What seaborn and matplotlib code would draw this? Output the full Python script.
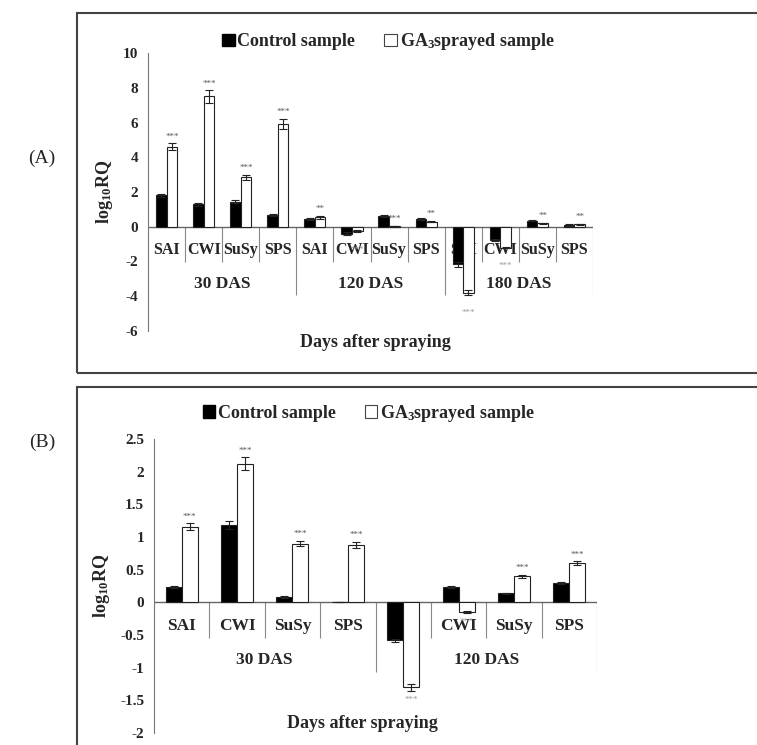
import numpy as np
import pandas as pd
import matplotlib
matplotlib.use("Agg")
import matplotlib.pyplot as plt
from matplotlib.patches import Patch, Rectangle
import seaborn as sns

# ---------------------------------------------------------------------------
# Data
# ---------------------------------------------------------------------------
GENES = ["SAI", "CWI", "SuSy", "SPS"]

A_GROUPS = ["30 DAS", "120 DAS", "180 DAS"]
A_CONTROL = [1.8, 1.3, 1.45, 0.7, 0.45, -0.4, 0.6, 0.45, -2.15, -0.75, 0.35, 0.1]
A_CONTROL_ERR = [0.08, 0.08, 0.08, 0.06, 0.05, 0.08, 0.05, 0.05, 0.15, 0.06, 0.04, 0.03]
A_GA = [4.6, 7.5, 2.85, 5.9, 0.55, -0.25, 0.05, 0.3, -3.8, -1.2, 0.2, 0.15]
A_GA_ERR = [0.2, 0.35, 0.15, 0.3, 0.08, 0.05, 0.02, 0.05, 0.15, 0.05, 0.04, 0.03]
A_STARS = ["***", "***", "***", "***", "**", "***", "***", "**", "***", "***", "**", "**"]

B_GROUPS = ["30 DAS", "120 DAS"]
B_CONTROL = [0.24, 1.18, 0.08, 0.0, -0.58, 0.24, 0.14, 0.29]
B_CONTROL_ERR = [0.015, 0.06, 0.01, 0.0, 0.02, 0.015, 0.01, 0.015]
B_GA = [1.16, 2.12, 0.9, 0.88, -1.3, -0.15, 0.4, 0.6]
B_GA_ERR = [0.05, 0.1, 0.04, 0.05, 0.05, 0.01, 0.02, 0.03]
B_STARS = ["***"] * 8

LEGEND_LABELS = ["Control sample", r"GA$_3$sprayed sample"]

sns.set_style("white")
plt.rcParams["font.family"] = ["Liberation Serif", "DejaVu Serif"]
plt.rcParams["font.weight"] = "bold"
plt.rcParams["mathtext.fontset"] = "custom"
plt.rcParams["mathtext.rm"] = "Liberation Serif:bold"
plt.rcParams["mathtext.it"] = "Liberation Serif:bold"
plt.rcParams["mathtext.bf"] = "Liberation Serif:bold"


def draw_panel(ax, groups, control, control_err, ga, ga_err, stars, ylim, yticks,
               gene_y, group_y, sep_gene, sep_group, width, star_off, xlab_pos,
               legend_pos, label_size):
    slots = [f"{g}|{gene}" for g in groups for gene in GENES]
    df = pd.DataFrame({
        "slot": slots * 2,
        "sample": ["Control"] * len(slots) + ["GA"] * len(slots),
        "value": list(control) + list(ga),
    })
    sns.barplot(data=df, x="slot", y="value", hue="sample", order=slots,
                hue_order=["Control", "GA"],
                palette={"Control": "black", "GA": "white"},
                edgecolor="#222", linewidth=0.8, width=width, gap=0,
                ax=ax, legend=False, zorder=3)

    # error bars and significance stars
    for cont, vals, errs in ((ax.containers[0], control, control_err),
                             (ax.containers[1], ga, ga_err)):
        xs = [b.get_x() + b.get_width() / 2 for b in cont]
        ax.errorbar(xs, vals, yerr=errs, fmt="none", ecolor="#222",
                    elinewidth=0.8, capsize=3, capthick=0.8, zorder=4)
    xs = [b.get_x() + b.get_width() / 2 for b in ax.containers[1]]
    for x, v, e, s in zip(xs, ga, ga_err, stars):
        if v >= 0:
            ax.annotate(s, (x, v + e), xytext=(0, 2), textcoords="offset points",
                        ha="center", va="bottom", fontsize=6.5, color="#555",
                        fontweight="normal")
        else:
            ax.annotate(s, (x, v - e), xytext=(0, -star_off), textcoords="offset points",
                        ha="center", va="top", fontsize=6.5, color="#999",
                        fontweight="normal")

    n = len(slots)
    ax.set_xlim(-0.5, n - 0.5)
    ax.set_ylim(*ylim)
    ax.set_yticks(yticks)
    ax.set_yticklabels([f"{t:g}" for t in yticks], fontsize=11, fontweight="bold")
    ax.set_xticks([])
    ax.set_xlabel("")
    ax.set_ylabel(r"log$_{10}$RQ", fontsize=13, fontweight="bold", labelpad=6)
    for side in ("top", "right", "bottom"):
        ax.spines[side].set_visible(False)
    ax.spines["left"].set_color("#777")
    ax.tick_params(axis="y", length=3, color="#777", pad=4)
    ax.axhline(0, color="#666", lw=1, zorder=2)

    # multi-level category axis
    for k in range(1, n + 1):
        depth = sep_group if k % 4 == 0 else sep_gene
        ax.vlines(k - 0.5, depth, 0, color="#888", lw=0.8, zorder=1)
    for i, slot in enumerate(slots):
        ax.text(i, gene_y, slot.split("|")[1], ha="center", va="center",
                fontsize=label_size, fontweight="bold", zorder=1)
    for j, g in enumerate(groups):
        ax.text(j * 4 + 1.5, group_y, g, ha="center", va="center",
                fontsize=12.5, fontweight="bold", zorder=1)

    ax.text(xlab_pos[0], xlab_pos[1], "Days after spraying", transform=ax.transAxes,
            ha="center", va="center", fontsize=13, fontweight="bold")

    handles = [Patch(facecolor="black", edgecolor="black"),
               Patch(facecolor="white", edgecolor="#444", linewidth=0.8)]
    ax.legend(handles, LEGEND_LABELS, loc="center", bbox_to_anchor=legend_pos,
              ncol=2, frameon=False, handlelength=0.7, handleheight=0.7,
              handletextpad=0.15, columnspacing=1.6, prop={"weight": "bold", "size": 13})


fig = plt.figure(figsize=(7.57, 7.45), dpi=100)
ax_a = fig.add_axes([148 / 757, 1 - 331 / 745, 445 / 757, 278 / 745])
ax_b = fig.add_axes([154 / 757, 1 - 733 / 745, 443 / 757, 294 / 745])

draw_panel(ax_a, A_GROUPS, A_CONTROL, A_CONTROL_ERR, A_GA, A_GA_ERR, A_STARS,
           ylim=(-6, 10), yticks=list(range(-6, 11, 2)),
           gene_y=-1.35, group_y=-3.3, sep_gene=-2.0, sep_group=-3.9,
           width=0.57, star_off=10, xlab_pos=(0.51, -0.043), legend_pos=(0.54, 1.04),
           label_size=11.5)
draw_panel(ax_b, B_GROUPS, B_CONTROL, B_CONTROL_ERR, B_GA, B_GA_ERR, B_STARS,
           ylim=(-2, 2.5), yticks=list(np.arange(-2, 2.51, 0.5)),
           gene_y=-0.36, group_y=-0.88, sep_gene=-0.55, sep_group=-1.07,
           width=0.58, star_off=4, xlab_pos=(0.47, 0.034), legend_pos=(0.485, 1.088),
           label_size=12.5)

# panel frames and labels
fig.add_artist(Rectangle((77 / 757, 1 - 373 / 745), 0.95, 360 / 745,
                         transform=fig.transFigure, fill=False, edgecolor="#444", lw=1.5))
fig.add_artist(Rectangle((77 / 757, -0.05), 0.95, 1 - 387 / 745 + 0.05,
                         transform=fig.transFigure, fill=False, edgecolor="#444", lw=1.5))
fig.text(42 / 757, 1 - 158 / 745, "(A)", ha="center", va="center",
         fontsize=14, fontweight="normal")
fig.text(42 / 757, 1 - 442 / 745, "(B)", ha="center", va="center",
         fontsize=14, fontweight="normal")

fig.savefig("out.png", dpi=100)
